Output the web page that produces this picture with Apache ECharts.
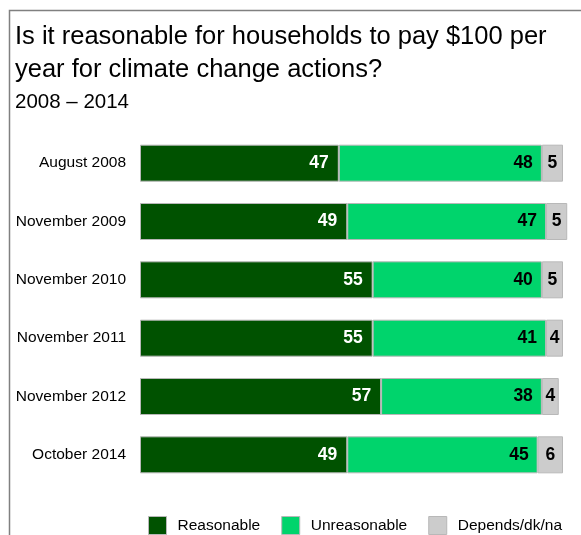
<!DOCTYPE html>
<html>
<head>
<meta charset="utf-8">
<script src="https://cdn.jsdelivr.net/npm/echarts@6/dist/echarts.min.js"></script>
<style>
  html, body { margin: 0; padding: 0; background: #fff; }
  #chart { width: 581px; height: 535px; }
</style>
</head>
<body>
<div id="chart"></div>
<script>
// Survey waves, top to bottom
const waves = ['August 2008', 'November 2009', 'November 2010', 'November 2011', 'November 2012', 'October 2014'];
// Percent answering each option
const reasonable   = [47, 49, 55, 55, 57, 49];
const unreasonable = [48, 47, 40, 41, 38, 45];
const depends      = [5, 5, 5, 4, 4, 6];

const seriesNames = ['Reasonable', 'Unreasonable', 'Depends/dk/na'];
const colors = ['#005200', '#00d46c', '#cccccc'];

const sans = '"Liberation Sans", Arial, sans-serif';

function barSeries(name, data, color, label) {
  return {
    name, type: 'bar', stack: 'total', data, barWidth: 37, clip: false,
    itemStyle: { color, borderColor: '#b8b8b8', borderWidth: 1 },
    label: Object.assign({ show: true, fontFamily: sans, fontWeight: 'bold', fontSize: 17.5 }, label)
  };
}

const chart = echarts.init(document.getElementById('chart'), null, { renderer: 'canvas' });
chart.setOption({
  animation: false,
  backgroundColor: '#fff',
  graphic: [
    { type: 'rect', shape: { x: 9.5, y: 10.5, width: 600, height: 560 },
      style: { fill: 'none', stroke: '#808080', lineWidth: 1.5 }, silent: true },
    { type: 'text', left: 15, top: 20,
      style: { text: 'Is it reasonable for households to pay $100 per\nyear for climate change actions?',
               font: '25.5px ' + sans, fill: '#000', lineHeight: 33 } },
    { type: 'text', left: 15, top: 92,
      style: { text: '2008 \u2013 2014', font: '20.5px ' + sans, fill: '#000' } }
  ],
  grid: { left: 140, top: 134, width: 423, height: 350, outerBoundsMode: 'none' },
  xAxis: { type: 'value', min: 0, max: 100, show: false },
  yAxis: {
    type: 'category', data: waves, inverse: true,
    axisLine: { show: false }, axisTick: { show: false },
    axisLabel: { margin: 14, color: '#000', fontFamily: sans, fontSize: 15.5 }
  },
  legend: {
    left: 143, top: 511, width: 438, itemWidth: 18, itemHeight: 18, itemGap: 21,
    icon: 'rect',
    itemStyle: { borderColor: '#b8b8b8', borderWidth: 1 },
    textStyle: { fontFamily: sans, fontSize: 15.5, color: '#000', padding: [0, 0, 0, 6] },
    data: seriesNames
  },
  series: [
    barSeries(seriesNames[0], reasonable, colors[0], { position: 'insideRight', distance: 10, color: '#fff' }),
    barSeries(seriesNames[1], unreasonable, colors[1], { position: 'insideRight', distance: 9, color: '#000' }),
    barSeries(seriesNames[2], depends, colors[2], { position: 'inside', color: '#000' })
  ]
});
</script>
</body>
</html>
